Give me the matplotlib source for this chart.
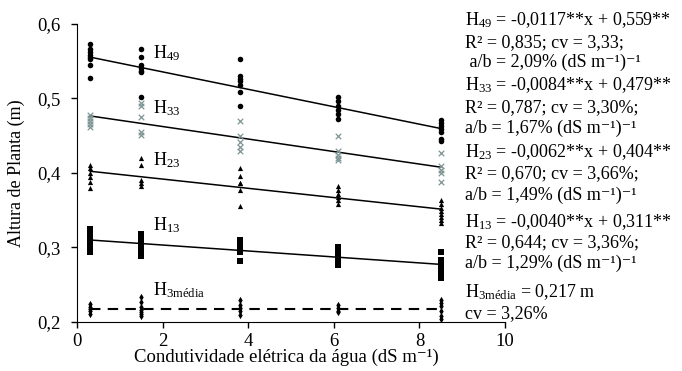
import numpy as np
import matplotlib
matplotlib.use("Agg")
import matplotlib.pyplot as plt

plt.rcParams['font.family'] = ['Liberation Serif', 'DejaVu Serif']
plt.rcParams['mathtext.fontset'] = 'custom'
plt.rcParams['mathtext.rm'] = 'Liberation Serif'
plt.rcParams['mathtext.it'] = 'Liberation Serif:italic'

# condutividade eletrica da agua (dS m-1)
ce = [0.3, 1.5, 3.8, 6.1, 8.5]

# altura de planta (m), leituras por nivel de CE
h49 = [[0.573, 0.566, 0.562, 0.559, 0.556, 0.553, 0.545, 0.527],
       [0.567, 0.555, 0.545, 0.541, 0.537, 0.535, 0.502],
       [0.553, 0.530, 0.526, 0.523, 0.518, 0.508, 0.490],
       [0.502, 0.496, 0.490, 0.485, 0.479, 0.473],
       [0.471, 0.467, 0.463, 0.459, 0.455, 0.446, 0.443]]
h33 = [[0.478, 0.474, 0.470, 0.466, 0.462],
       [0.494, 0.490, 0.475, 0.455, 0.451],
       [0.470, 0.449, 0.442, 0.435, 0.429],
       [0.449, 0.429, 0.424, 0.420, 0.417],
       [0.426, 0.409, 0.404, 0.400, 0.388]]
h23 = [[0.410, 0.406, 0.400, 0.394, 0.388, 0.380],
       [0.420, 0.411, 0.390, 0.386, 0.383],
       [0.406, 0.396, 0.387, 0.386, 0.377, 0.356],
       [0.382, 0.377, 0.372, 0.367, 0.363, 0.358],
       [0.363, 0.358, 0.353, 0.349, 0.345, 0.341, 0.337, 0.333]]
h13 = [[0.325, 0.318, 0.312, 0.307, 0.302, 0.298, 0.293],
       [0.318, 0.312, 0.307, 0.303, 0.299, 0.295, 0.288],
       [0.310, 0.305, 0.300, 0.296, 0.294, 0.282],
       [0.301, 0.296, 0.291, 0.287, 0.283, 0.279, 0.276],
       [0.294, 0.283, 0.278, 0.274, 0.270, 0.266, 0.259]]
h3 = [[0.224, 0.220, 0.217, 0.214, 0.210],
      [0.233, 0.227, 0.220, 0.216, 0.213, 0.210, 0.207],
      [0.229, 0.223, 0.218, 0.214, 0.209],
      [0.222, 0.218, 0.215, 0.213],
      [0.229, 0.225, 0.221, 0.214, 0.208, 0.204]]

# ajustes lineares (a*x + b)
coef_a = [-0.0117, -0.0084, -0.0062, -0.0040]
coef_b = [0.559, 0.479, 0.404, 0.311]
h3_media = 0.217

nomes = ['H$_{49}$', 'H$_{33}$', 'H$_{23}$', 'H$_{13}$', 'H$_{3\\mathrm{média}}$']
nome_y = [0.561, 0.487, 0.417, 0.330, 0.243]

eq_txt = [
    'H$_{49}$ = -0,0117**x + 0,559**',
    'R² = 0,835; cv = 3,33;',
    ' a/b = 2,09% (dS m⁻¹)⁻¹',
    'H$_{33}$ = -0,0084**x + 0,479**',
    'R² = 0,787; cv = 3,30%;',
    'a/b = 1,67% (dS m⁻¹)⁻¹',
    'H$_{23}$ = -0,0062**x + 0,404**',
    'R² = 0,670; cv = 3,66%;',
    'a/b = 1,49% (dS m⁻¹)⁻¹',
    'H$_{13}$ = -0,0040**x + 0,311**',
    'R² = 0,644; cv = 3,36%;',
    'a/b = 1,29% (dS m⁻¹)⁻¹',
    'H$_{3\\mathrm{média}}$ = 0,217 m',
    'cv = 3,26%',
]
eq_base = [25, 46.7, 66.7, 90, 111.7, 133, 156.7, 178, 200, 227, 246.7, 268, 296.7, 318]

W, H = 682, 371
fig = plt.figure(figsize=(W / 100, H / 100), dpi=100)
ax = fig.add_axes([77.3 / W, 1 - 321.7 / H, 427.7 / W, 297.7 / H])

def pontos(dados, **kw):
    for x, ys in zip(ce, dados):
        ax.scatter([x] * len(ys), ys, **kw)

pontos(h49, marker='o', s=16, color='black', linewidths=0, zorder=3)
pontos(h33, marker='x', s=16, color='#7f9494', linewidths=0.9, zorder=3)
pontos(h23, marker='^', s=14, color='black', linewidths=0, zorder=3)
pontos(h13, marker='s', s=24, color='black', linewidths=0, zorder=3)
pontos(h3, marker='d', s=14, color='black', linewidths=0, zorder=3)

xx = np.array([ce[0], ce[-1]])
for a, b in zip(coef_a, coef_b):
    ax.plot(xx, a * xx + b, color='black', lw=1.1, zorder=2)
ax.plot(xx, [h3_media, h3_media], color='black', lw=1.5, ls=(0, (5, 3.5)), zorder=2)

for nome, yv in zip(nomes, nome_y):
    ax.text(1.77, yv, nome, fontsize=13, va='center', ha='left')

ax.set_xlim(0, 10)
ax.set_ylim(0.2, 0.6)
ax.set_xticks([0, 2, 4, 6, 8, 10])
ax.set_yticks([0.2, 0.3, 0.4, 0.5, 0.6])
ax.set_yticklabels(['0,2', '0,3', '0,4', '0,5', '0,6'])
ax.tick_params(direction='out', length=4, width=1, labelsize=13.5)
ax.tick_params(axis='y', pad=8)
ax.tick_params(axis='x', pad=4)
ax.spines['top'].set_visible(False)
ax.spines['right'].set_visible(False)
ax.set_facecolor('none')
ax.set_xlabel('Condutividade elétrica da água (dS m⁻¹)', fontsize=13.5, labelpad=-1, x=0.49)
ax.set_ylabel('Altura de Planta (m)', fontsize=13, labelpad=9)

for txt, yb in zip(eq_txt, eq_base):
    fig.text(465 / W, 1 - yb / H, txt, fontsize=13, va='baseline', ha='left')

fig.savefig('out.png', dpi=100)
